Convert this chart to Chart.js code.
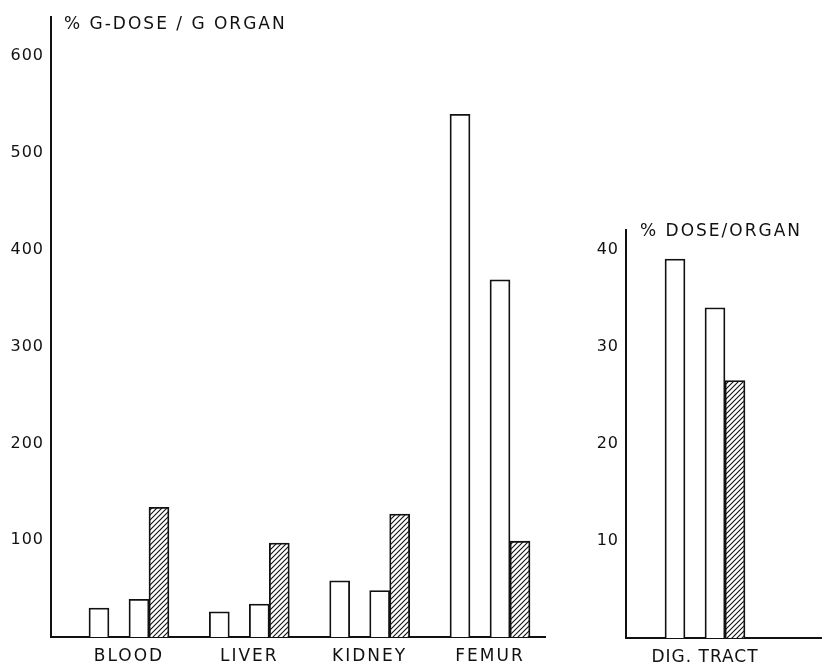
<!DOCTYPE html>
<html>
<head>
<meta charset="utf-8">
<script src="https://cdn.jsdelivr.net/npm/chart.js@4.4.1/dist/chart.umd.min.js"></script>
<style>
  html, body { margin: 0; padding: 0; background: #fff; }
  #wrap { position: relative; width: 822px; height: 663px; }
  canvas { position: absolute; top: 0; }
  #left { left: 0; }
  #right { left: 560px; }
</style>
</head>
<body>
<div id="wrap">
  <canvas id="left" width="560" height="663"></canvas>
  <canvas id="right" width="262" height="663"></canvas>
</div>
<script>
// data
var organs = ["BLOOD", "LIVER", "KIDNEY", "FEMUR"];
var organA = [30, 26, 58, 540];
var organB = [39, 34, 48, 369];
var organC = [134, 97, 127, 99];

var tract = ["DIG. TRACT"];
var tractA = [39];
var tractB = [34];
var tractC = [26.5];

var leftTicks = [100, 200, 300, 400, 500, 600];
var rightTicks = [10, 20, 30, 40];

var ink = "#111";
var font = "'DejaVu Sans', sans-serif";

function hatch() {
  var c = document.createElement("canvas");
  c.width = 5; c.height = 5;
  var g = c.getContext("2d");
  g.fillStyle = "#fff";
  g.fillRect(0, 0, 5, 5);
  g.strokeStyle = ink;
  g.lineWidth = 1.1;
  g.beginPath();
  g.moveTo(-1, 6); g.lineTo(6, -1);
  g.moveTo(-1, 1); g.lineTo(1, -1);
  g.moveTo(4, 6); g.lineTo(6, 4);
  g.stroke();
  return g.createPattern(c, "repeat");
}

function points(vals) {
  return vals.map(function (v, i) { return { x: i + 1, y: v }; });
}

function sets(a, b, c) {
  var base = { borderColor: ink, borderWidth: 1.8, barThickness: 20 };
  return [
    Object.assign({ label: "a", data: points(a), backgroundColor: "#fff" }, base),
    Object.assign({ label: "gap", data: [], backgroundColor: "#fff" }, base),
    Object.assign({ label: "b", data: points(b), backgroundColor: "#fff" }, base),
    Object.assign({ label: "c", data: points(c), backgroundColor: hatch() }, base)
  ];
}

// y labels drawn with tighter spacing than the x labels (x labels drawn after bars)
function titlePlugin(text, x, y, xSpacing) {
  return {
    id: "unitTitle",
    beforeDraw: function (chart) {
      chart.ctx.letterSpacing = "1px";
    },
    afterDatasetsDraw: function (chart) {
      chart.ctx.letterSpacing = xSpacing;
    },
    afterDraw: function (chart) {
      var ctx = chart.ctx;
      ctx.save();
      ctx.letterSpacing = "2px";
      ctx.font = "17px " + font;
      ctx.fillStyle = ink;
      ctx.textBaseline = "alphabetic";
      ctx.textAlign = "left";
      ctx.fillText(text, x, y);
      ctx.restore();
    }
  };
}

function makeChart(id, names, a, b, c, opt) {
  return new Chart(document.getElementById(id), {
    type: "bar",
    data: { datasets: sets(a, b, c) },
    options: {
      responsive: false,
      devicePixelRatio: 1,
      animation: false,
      events: [],
      layout: { padding: { top: opt.top, right: opt.right, left: 0, bottom: 0 } },
      plugins: { legend: { display: false }, tooltip: { enabled: false } },
      scales: {
        x: {
          type: "linear",
          offset: false,
          min: opt.xmin,
          max: opt.xmax,
          grid: { display: false, drawTicks: false },
          border: { display: true, color: ink, width: 2 },
          afterBuildTicks: function (s) {
            s.ticks = names.map(function (n, i) { return { value: i + 1 }; });
          },
          afterFit: function (s) { s.height = opt.xh; },
          ticks: {
            z: 1,
            autoSkip: false,
            maxRotation: 0,
            padding: 9,
            color: ink,
            font: { family: font, size: 17 },
            callback: function (v) { return names[v - 1] || ""; }
          }
        },
        y: {
          min: 0,
          max: opt.ymax,
          grid: { display: false, drawTicks: false },
          border: { display: true, color: ink, width: 2 },
          afterBuildTicks: function (s) {
            s.ticks = opt.yticks.map(function (v) { return { value: v }; });
          },
          afterFit: function (s) { s.width = opt.yw; },
          ticks: {
            padding: 7,
            color: ink,
            font: { family: font, size: 16 }
          }
        }
      }
    },
    plugins: [titlePlugin(opt.title, opt.tx, opt.ty, opt.xsp)]
  });
}

makeChart("left", organs, organA, organB, organC, {
  top: 15, right: 15, xmin: 0.352, xmax: 4.457, xh: 26, yw: 51, ymax: 641,
  yticks: leftTicks, title: "% G-DOSE / G ORGAN", tx: 64, ty: 29, xsp: "2px"
});

makeChart("right", tract, tractA, tractB, tractC, {
  top: 230, right: 0, xmin: 0.21, xmax: 2.17, xh: 25, yw: 66, ymax: 42,
  yticks: rightTicks, title: "% DOSE/ORGAN", tx: 80, ty: 236, xsp: "1px"
});
</script>
</body>
</html>
